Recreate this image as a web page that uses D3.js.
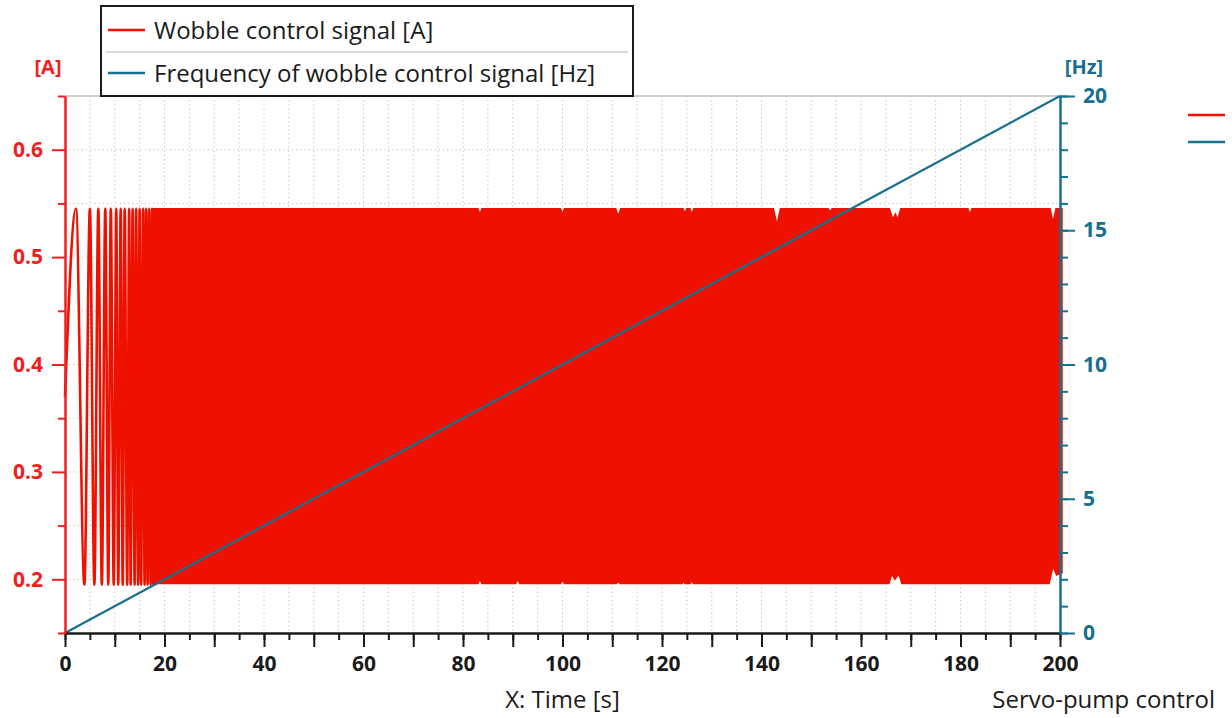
<!DOCTYPE html>
<html>
<head>
<meta charset="utf-8">
<script src="https://cdn.jsdelivr.net/npm/d3@7"></script>
<style>
	body { margin: 0; background: #fff; }
	text { font-family: "Open Sans", "Noto Sans", sans-serif; }
	.grid line { stroke: #bdbdbd; stroke-width: 1; stroke-dasharray: 1.2,3; }
	.bold { font-weight: 700; }
</style>
</head>
<body>
<script>

// wobble signal, first seconds: turning points [time s, value A]
var wobbleStart = [
	[0, 0.37], [2.2, 0.545], [3.9, 0.195], [5.0, 0.545], [5.9, 0.195], [6.7, 0.545],
	[7.4, 0.195], [8.1, 0.545], [8.7, 0.195], [9.2, 0.545], [9.8, 0.195], [10.3, 0.545],
	[10.7, 0.195], [11.2, 0.545], [11.6, 0.195], [12.0, 0.545], [12.5, 0.195], [12.9, 0.545],
	[13.2, 0.195], [13.6, 0.545], [14.0, 0.195], [14.3, 0.545], [14.7, 0.195], [15.0, 0.545],
	[15.3, 0.195], [15.7, 0.545], [16.0, 0.195], [16.3, 0.545], [16.6, 0.195], [16.9, 0.545],
	[17.2, 0.195], [17.5, 0.545], [17.8, 0.195], [18.0, 0.545]
];

// after ~17.5 s the oscillation is a solid band: upper / lower envelope [time s, value A]
var wobbleUpper = [
	[17.5, 0.545], [83.0, 0.545], [83.4, 0.540], [83.8, 0.545], [99.6, 0.545], [100.0, 0.540],
	[100.4, 0.545], [110.7, 0.545], [111.2, 0.538], [111.7, 0.545], [124.2, 0.545], [124.6, 0.541],
	[125.0, 0.545], [125.6, 0.545], [126.0, 0.540], [126.4, 0.545], [142.4, 0.545], [143.1, 0.530],
	[143.8, 0.545], [153.4, 0.545], [153.8, 0.542], [154.2, 0.545], [165.7, 0.545], [166.4, 0.535],
	[166.9, 0.540], [167.4, 0.535], [168.0, 0.545], [181.5, 0.545], [181.9, 0.540], [182.3, 0.545],
	[198.0, 0.545], [198.6, 0.532], [199.2, 0.545], [200.4, 0.545]
];
var wobbleLower = [
	[17.5, 0.196], [83.0, 0.196], [83.4, 0.200], [83.8, 0.196], [90.6, 0.196], [91.0, 0.200],
	[91.4, 0.196], [99.6, 0.196], [100.0, 0.199], [100.4, 0.196], [110.8, 0.196], [111.2, 0.198],
	[111.6, 0.196], [124.0, 0.196], [124.3, 0.198], [124.6, 0.196], [125.7, 0.196], [126.0, 0.199],
	[126.3, 0.196], [165.6, 0.196], [166.2, 0.205], [166.8, 0.200], [167.6, 0.205], [168.2, 0.196],
	[197.8, 0.196], [198.6, 0.212], [199.3, 0.204], [200.4, 0.206]
];

// frequency of the wobble signal [Hz]
var freqTimes = [0, 200];
var freqValues = [0, 20];

var xMajor = d3.range(0, 201, 10);
var xMinor = d3.range(0, 201, 5);
var xLabels = [0, 20, 40, 60, 80, 100, 120, 140, 160, 180, 200];
var leftMajor = [0.2, 0.3, 0.4, 0.5, 0.6];
var leftMinor = [0.15, 0.25, 0.35, 0.45, 0.55, 0.65];
var rightMajor = [0, 5, 10, 15, 20];
var rightMinor = d3.range(0, 21, 1);

var legendNames = ["Wobble control signal [A]", "Frequency of wobble control signal [Hz]"];

var RED = "#ee1100", RED_AX = "#f01e1e", TEAL = "#16708e";

var width = 1232, height = 718;
var svg = d3.select("body").append("svg")
	.attr("width", width)
	.attr("height", height);

var x = d3.scaleLinear().domain([0, 200]).range([65, 1060]);
var yL = d3.scaleLinear().domain([0.15, 0.65]).range([633, 96]);
var yR = d3.scaleLinear().domain([0, 20]).range([633, 96]);

// grid
var grid = svg.append("g").attr("class", "grid");
grid.selectAll(".gv")
	.data(xMinor.filter(function(d) { return d > 0 && d < 200; }))
	.enter().append("line")
	.attr("x1", function(d) { return x(d); })
	.attr("x2", function(d) { return x(d); })
	.attr("y1", yL(0.65)).attr("y2", yL(0.15));
grid.selectAll(".gh")
	.data(d3.range(0.2, 0.62, 0.05))
	.enter().append("line")
	.attr("x1", x(0)).attr("x2", x(200))
	.attr("y1", function(d) { return yL(d); })
	.attr("y2", function(d) { return yL(d); });

svg.append("line")
	.attr("x1", x(0)).attr("x2", x(200))
	.attr("y1", yL(0.65)).attr("y2", yL(0.65))
	.attr("stroke", "#c0c0c0").attr("stroke-width", 1.5);

// wobble signal
function envAt(env, t) {
	var bis = d3.bisector(function(d) { return d[0]; }).left;
	var i = bis(env, t);
	if (i <= 0) return env[0][1];
	if (i >= env.length) return env[env.length - 1][1];
	var a = env[i - 1], b = env[i];
	return a[1] + (b[1] - a[1]) * (t - a[0]) / (b[0] - a[0]);
}

// union of sample times so both envelopes are followed
var bandTimes = d3.sort(Array.from(new Set(wobbleUpper.map(function(d) { return d[0]; })
	.concat(wobbleLower.map(function(d) { return d[0]; })))));

var band = d3.area()
	.x(function(d) { return x(d); })
	.y0(function(d) { return yL(envAt(wobbleLower, d)); })
	.y1(function(d) { return yL(envAt(wobbleUpper, d)); });

svg.append("path")
	.datum(bandTimes)
	.attr("d", band)
	.attr("fill", RED)
	.attr("stroke", RED)
	.attr("stroke-width", 1.5);

svg.append("path")
	.datum(wobbleStart)
	.attr("d", d3.line()
		.x(function(d) { return x(d[0]); })
		.y(function(d) { return yL(d[1]); })
		.curve(d3.curveMonotoneX))
	.attr("fill", "none")
	.attr("stroke", RED)
	.attr("stroke-width", 2.6);

// frequency line
svg.append("path")
	.datum(freqTimes.map(function(t, i) { return [t, freqValues[i]]; }))
	.attr("d", d3.line()
		.x(function(d) { return x(d[0]); })
		.y(function(d) { return yR(d[1]); }))
	.attr("fill", "none")
	.attr("stroke", TEAL)
	.attr("stroke-width", 2.2);

// axes
function styleAxis(g, color, size) {
	g.select(".domain").attr("stroke", color).attr("stroke-width", 2);
	g.selectAll(".tick line").attr("stroke", color).attr("stroke-width", 2);
	g.selectAll(".tick text").attr("fill", color)
		.attr("class", "bold").style("font-size", size + "px");
}

var bottomMinor = svg.append("g").attr("transform", "translate(0,633)")
	.call(d3.axisBottom(x).tickValues(xMinor).tickSize(7).tickSizeOuter(0).tickFormat(""));
styleAxis(bottomMinor, "#1a1a1a", 21);
var bottomMajor = svg.append("g").attr("transform", "translate(0,633)")
	.call(d3.axisBottom(x).tickValues(xMajor).tickSize(14).tickSizeOuter(0).tickPadding(9)
		.tickFormat(function(d) { return xLabels.indexOf(d) >= 0 ? d : ""; }));
styleAxis(bottomMajor, "#1a1a1a", 21);

var leftMinorG = svg.append("g").attr("transform", "translate(65,0)")
	.call(d3.axisLeft(yL).tickValues(leftMinor).tickSize(7).tickSizeOuter(0).tickFormat(""));
styleAxis(leftMinorG, RED_AX, 21);
var leftMajorG = svg.append("g").attr("transform", "translate(65,0)")
	.call(d3.axisLeft(yL).tickValues(leftMajor).tickSize(13).tickSizeOuter(0).tickPadding(9)
		.tickFormat(d3.format(".1f")));
styleAxis(leftMajorG, RED_AX, 21);

var rightMinorG = svg.append("g").attr("transform", "translate(1060,0)")
	.call(d3.axisRight(yR).tickValues(rightMinor).tickSize(8).tickSizeOuter(0).tickFormat(""));
styleAxis(rightMinorG, TEAL, 21);
var rightMajorG = svg.append("g").attr("transform", "translate(1060,0)")
	.call(d3.axisRight(yR).tickValues(rightMajor).tickSize(15).tickSizeOuter(0).tickPadding(8));
styleAxis(rightMajorG, TEAL, 21);

// axis titles
svg.append("text").attr("class", "bold")
	.attr("x", 48).attr("y", 74).attr("text-anchor", "middle")
	.attr("fill", RED_AX).style("font-size", "20px").text("[A]");
svg.append("text").attr("class", "bold")
	.attr("x", 1084).attr("y", 74).attr("text-anchor", "middle")
	.attr("fill", TEAL).style("font-size", "20px").text("[Hz]");

svg.append("text")
	.attr("x", (x(0) + x(200)) / 2).attr("y", 708).attr("text-anchor", "middle")
	.attr("fill", "#1a1a1a").style("font-size", "24px").text("X: Time [s]");
svg.append("text")
	.attr("x", 1215).attr("y", 708).attr("text-anchor", "end")
	.attr("fill", "#1a1a1a").style("font-size", "24px").text("Servo-pump control");

// legend box
var legend = svg.append("g");
legend.append("rect")
	.attr("x", 101).attr("y", 6).attr("width", 532).attr("height", 90)
	.attr("fill", "#fff").attr("stroke", "#1a1a1a").attr("stroke-width", 2);
legend.append("line")
	.attr("x1", 106).attr("x2", 628).attr("y1", 52).attr("y2", 52)
	.attr("stroke", "#b4b4b4").attr("stroke-width", 1.2);
var rows = legend.selectAll(".row")
	.data(legendNames)
	.enter().append("g")
	.attr("transform", function(d, i) { return "translate(0," + (i * 43) + ")"; });
rows.append("line")
	.attr("x1", 108).attr("x2", 145).attr("y1", 30).attr("y2", 30)
	.attr("stroke", function(d, i) { return i == 0 ? RED : TEAL; })
	.attr("stroke-width", 2.5);
rows.append("text")
	.attr("x", 154).attr("y", 39)
	.attr("fill", "#1a1a1a").style("font-size", "24px")
	.text(function(d) { return d; });

// side legend stubs
svg.selectAll(".stub")
	.data([RED, TEAL])
	.enter().append("line")
	.attr("x1", 1188).attr("x2", 1225)
	.attr("y1", function(d, i) { return 115 + i * 27; })
	.attr("y2", function(d, i) { return 115 + i * 27; })
	.attr("stroke", function(d) { return d; })
	.attr("stroke-width", 2.5);

</script>
</body>
</html>
